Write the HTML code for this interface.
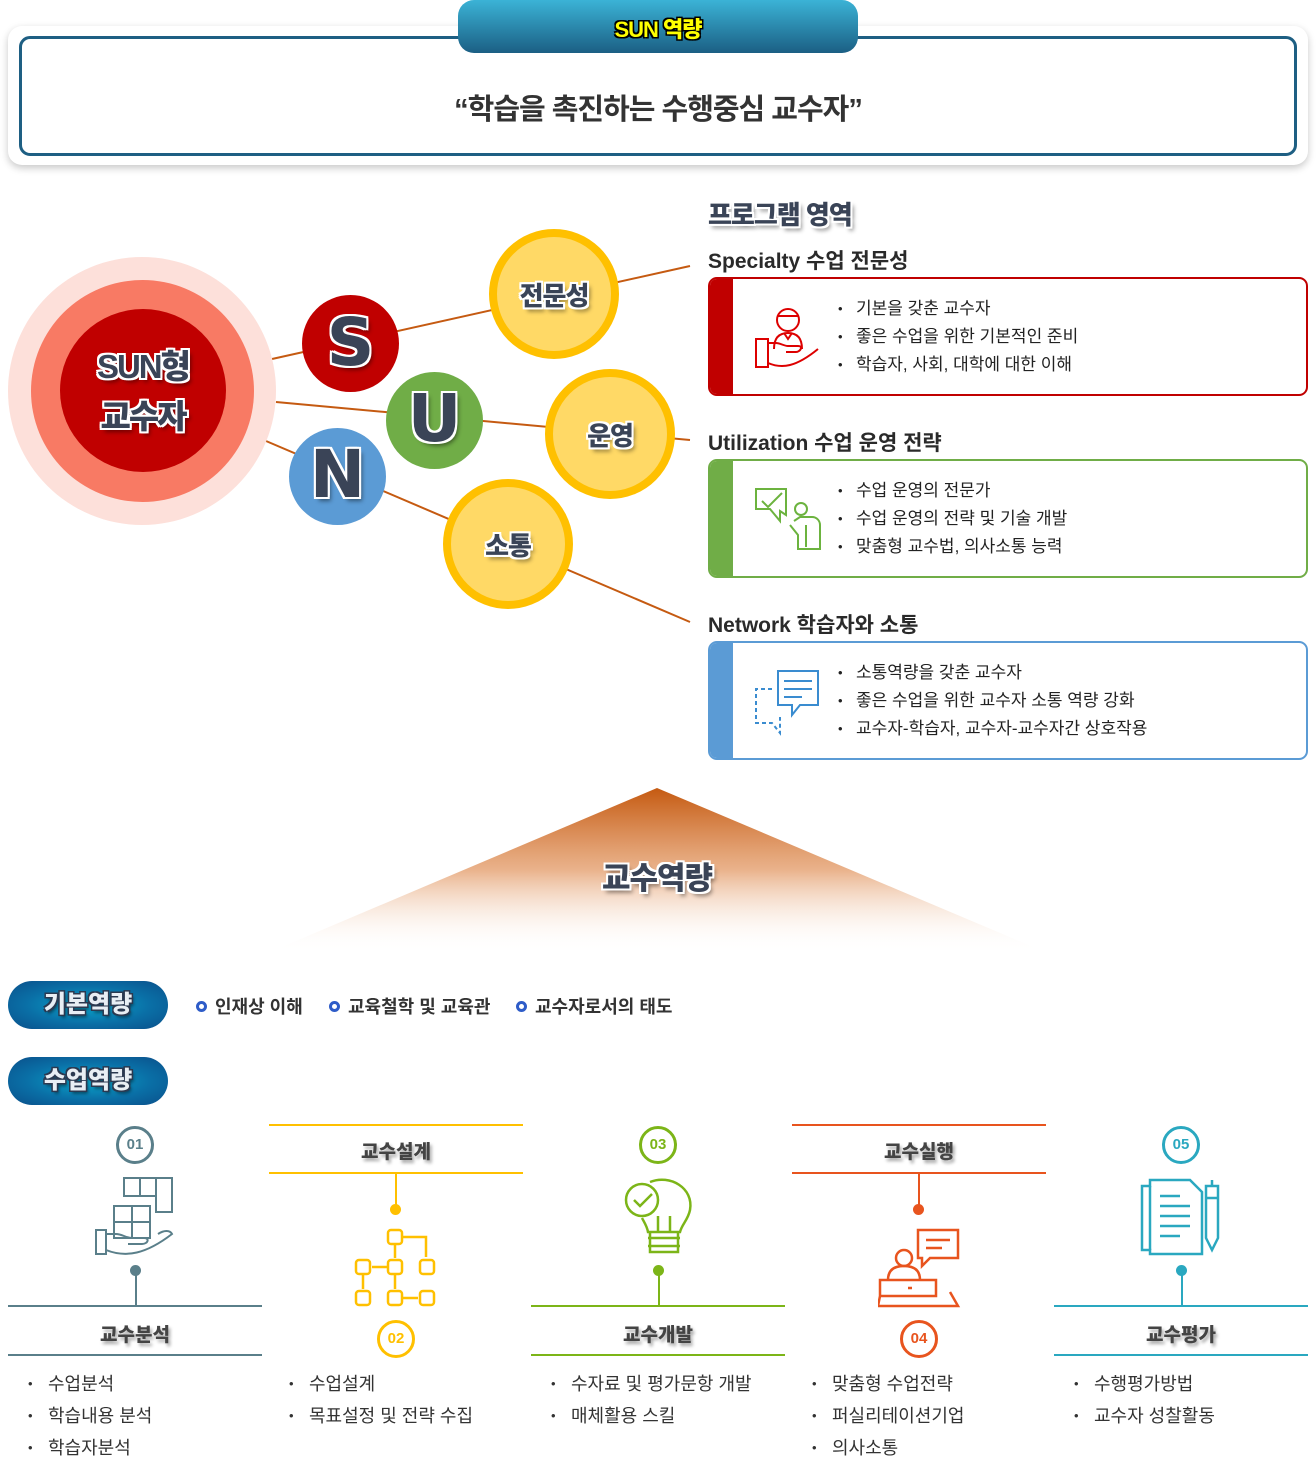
<!DOCTYPE html>
<html><head><meta charset="utf-8">
<style>
*{margin:0;padding:0;box-sizing:border-box}
body{width:1316px;height:1464px;background:#fff;position:relative;overflow:hidden;font-family:"Liberation Sans","Noto Sans CJK KR",sans-serif;color:#333}
.a{position:absolute}
.t{position:absolute;white-space:nowrap}
.out{color:#3a4457;font-weight:900;text-shadow:-2px -2px 0 #fff,2px -2px 0 #fff,-2px 2px 0 #fff,2px 2px 0 #fff,0 2px 0 #fff,0 -2px 0 #fff,2px 0 0 #fff,-2px 0 0 #fff,3px 4px 4px rgba(0,0,0,.45)}
.circ{position:absolute;border-radius:50%}
.box{position:absolute;left:708px;width:600px;height:119px;border:2px solid;border-radius:9px;background:#fff;overflow:hidden}
.box .band{position:absolute;left:0;top:0;bottom:0;width:23px}
.box ul{position:absolute;left:146px;top:16px;list-style:none;font-size:17px;line-height:28px;color:#222}
.box li{position:relative}
.box li:before{content:"•";position:absolute;left:-18px;font-size:13px}
.pill{position:absolute;left:8px;width:160px;height:48px;border-radius:24px;background:radial-gradient(ellipse at center,#0aa6cc 0%,#0a6fa6 55%,#0b4f8a 100%);text-align:center;line-height:48px;font-size:24px;font-weight:900;color:#e8eef4;text-shadow:-1.5px -1.5px 0 #2b3950,1.5px -1.5px 0 #2b3950,-1.5px 1.5px 0 #2b3950,1.5px 1.5px 0 #2b3950,2px 3px 3px rgba(0,0,0,.5)}
.ring{display:inline-block;width:11px;height:11px;border:3px solid #2e5cc8;border-radius:50%;margin-right:8px;vertical-align:1px}
.num{position:absolute;width:38px;height:38px;border:3px solid;border-radius:50%;text-align:center;line-height:32px;font-size:15px;font-weight:900;background:#fff}
.ttl{position:absolute;width:254px;text-align:center;font-size:19px;font-weight:900;color:#444;text-shadow:2px 3px 3px rgba(0,0,0,.35)}
.hl{position:absolute;width:254px;height:2px}
.vl{position:absolute;width:2px}
.dot{position:absolute;width:11px;height:11px;border-radius:50%}
.bl{position:absolute;list-style:none;font-size:18px;line-height:32px;color:#333}
.bl li{position:relative}
.bl li:before{content:"•";position:absolute;left:-20px;font-size:13px}
</style></head><body>

<div class="a" style="left:8px;top:26px;width:1300px;height:139px;border-radius:14px;background:#fff;box-shadow:0 3px 8px rgba(0,0,0,.22)"></div>
<div class="a" style="left:19px;top:36px;width:1278px;height:120px;border:3px solid #1e5f83;border-radius:11px"></div>
<div class="a" style="left:458px;top:0;width:400px;height:53px;border-radius:16px;background:linear-gradient(#3bb3d6,#1b5f84)"></div>
<div class="t" style="left:458px;top:12px;width:400px;text-align:center;font-size:22px;font-weight:900;color:#ffff00;letter-spacing:-1px;text-shadow:-1.5px -1.5px 0 #000,1.5px -1.5px 0 #000,-1.5px 1.5px 0 #000,1.5px 1.5px 0 #000">SUN 역량</div>
<div class="t" style="left:0;top:86px;width:1316px;text-align:center;font-size:29px;font-weight:700;color:#333;letter-spacing:-1px">“학습을 촉진하는 수행중심 교수자”</div>

<svg class="a" style="left:0;top:0" width="1316" height="800">
<g stroke="#c55a11" stroke-width="2" fill="none">
<line x1="272" y1="359" x2="690" y2="266"/>
<line x1="276" y1="402" x2="690" y2="440"/>
<line x1="266" y1="441" x2="690" y2="622"/>
</g></svg>

<div class="circ" style="left:8px;top:257px;width:268px;height:268px;background:#fde0da"></div>
<div class="circ" style="left:31px;top:280px;width:223px;height:222px;background:#f87a64"></div>
<div class="circ" style="left:60px;top:309px;width:166px;height:163px;background:#c00000"></div>
<div class="t out" style="left:60px;top:342px;width:166px;text-align:center;font-size:33px;line-height:50px;letter-spacing:-2px">SUN형<br>교수자</div>

<div class="circ" style="left:302px;top:295px;width:97px;height:97px;background:#c00000"></div>
<div class="circ" style="left:386px;top:372px;width:97px;height:97px;background:#70ad47"></div>
<div class="circ" style="left:289px;top:428px;width:97px;height:97px;background:#5b9bd5"></div>
<div class="t out" style="left:302px;top:304px;width:97px;text-align:center;font-size:66px;font-family:'DejaVu Sans',sans-serif">S</div>
<div class="t out" style="left:386px;top:380px;width:97px;text-align:center;font-size:66px;font-family:'DejaVu Sans',sans-serif">U</div>
<div class="t out" style="left:289px;top:436px;width:97px;text-align:center;font-size:66px;font-family:'DejaVu Sans',sans-serif">N</div>

<div class="circ" style="left:489px;top:229px;width:130px;height:130px;background:#ffd966;border:8px solid #ffc000"></div>
<div class="circ" style="left:545px;top:369px;width:130px;height:130px;background:#ffd966;border:8px solid #ffc000"></div>
<div class="circ" style="left:443px;top:479px;width:130px;height:130px;background:#ffd966;border:8px solid #ffc000"></div>
<div class="t out" style="left:489px;top:276px;width:130px;text-align:center;font-size:26px;letter-spacing:-1px">전문성</div>
<div class="t out" style="left:545px;top:416px;width:130px;text-align:center;font-size:26px;letter-spacing:-1px">운영</div>
<div class="t out" style="left:443px;top:526px;width:130px;text-align:center;font-size:26px;letter-spacing:-1px">소통</div>

<div class="t out" style="left:708px;top:195px;font-size:26px;letter-spacing:-1px">프로그램 영역</div>
<div class="t" style="left:708px;top:245px;font-size:21px;font-weight:700;color:#2a2a2a">Specialty 수업 전문성</div>
<div class="box" style="top:277px;border-color:#c00000"><div class="band" style="background:#c00000"></div>
<svg class="a" style="left:44px;top:24px" width="70" height="70" fill="none" stroke="#d00" stroke-width="2"><circle cx="34" cy="17" r="11"/><path d="M23 13h22M20 46c0-12 6-16 14-16s14 4 14 16M30 30l4 6 4-6M2 36h12v28H2zM14 40h8c4 0 8 3 12 3h10c6 0 2 6-2 6H32M14 60c14 6 28 4 50-14"/></svg>
<ul><li>기본을 갖춘 교수자</li><li>좋은 수업을 위한 기본적인 준비</li><li>학습자, 사회, 대학에 대한 이해</li></ul></div>

<div class="t" style="left:708px;top:427px;font-size:21px;font-weight:700;color:#2a2a2a">Utilization 수업 운영 전략</div>
<div class="box" style="top:459px;border-color:#70ad47"><div class="band" style="background:#70ad47"></div>
<svg class="a" style="left:44px;top:24px" width="70" height="70" fill="none" stroke="#6cb33f" stroke-width="2"><path d="M2 4h30v26l-6-4v10l-10-12H2z"/><path d="M8 16l6 6 14-14"/><circle cx="47" cy="24" r="6"/><path d="M36 40l8 10v14h22V40c0-4-3-8-8-8H46l-6 4M52 40v22" /></svg>
<ul><li>수업 운영의 전문가</li><li>수업 운영의 전략 및 기술 개발</li><li>맞춤형 교수법, 의사소통 능력</li></ul></div>

<div class="t" style="left:708px;top:609px;font-size:21px;font-weight:700;color:#2a2a2a">Network 학습자와 소통</div>
<div class="box" style="top:641px;border-color:#5b9bd5"><div class="band" style="background:#5b9bd5"></div>
<svg class="a" style="left:44px;top:24px" width="70" height="70" fill="none" stroke="#3a8cd0" stroke-width="2"><path d="M24 4h40v34H46l-8 10V38H24z"/><path d="M30 14h28M30 22h28M30 30h18"/><path d="M18 22H2v34h16l8 10V50" stroke-dasharray="4 3"/></svg>
<ul><li>소통역량을 갖춘 교수자</li><li>좋은 수업을 위한 교수자 소통 역량 강화</li><li>교수자-학습자, 교수자-교수자간 상호작용</li></ul></div>

<svg class="a" style="left:0;top:780px" width="1316" height="180">
<defs><linearGradient id="tg" x1="0" y1="0" x2="0" y2="1"><stop offset="0" stop-color="#c55a11"/><stop offset="0.5" stop-color="#e6a577" stop-opacity=".85"/><stop offset="1" stop-color="#fff" stop-opacity="0"/></linearGradient></defs>
<polygon points="657,8 1045,172 270,172" fill="url(#tg)"/></svg>
<div class="t out" style="left:557px;top:853px;width:200px;text-align:center;font-size:31px;letter-spacing:-1px">교수역량</div>

<div class="pill" style="top:981px">기본역량</div>
<div class="pill" style="top:1057px">수업역량</div>
<div class="t" style="left:196px;top:993px;font-size:18px;font-weight:700;color:#333"><span class="ring"></span>인재상 이해</div>
<div class="t" style="left:329px;top:993px;font-size:18px;font-weight:700;color:#333"><span class="ring"></span>교육철학 및 교육관</div>
<div class="t" style="left:516px;top:993px;font-size:18px;font-weight:700;color:#333"><span class="ring"></span>교수자로서의 태도</div>

<div class="num" style="left:116px;top:1126px;border-color:#5a7f8a;color:#5a7f8a">01</div>
<svg class="a" style="left:94px;top:1176px" width="84" height="84" fill="none" stroke="#5a7f8a" stroke-width="2"><path d="M30 2h48v34H62v-16H30zM46 2v18M62 2v18M30 20V2"/><path d="M20 30h36v32H20zM38 30v32M20 46h36"/><path d="M2 54h10v24H2zM12 58h10c6 0 10 4 16 4h12c6 0 4 6-2 6H34M12 74c20 8 40 4 66-16c-2-4-8-4-14 0"/></svg>
<div class="dot" style="left:130px;top:1265px;background:#5a7f8a"></div>
<div class="vl" style="left:135px;top:1270px;height:36px;background:#5a7f8a"></div>
<div class="hl" style="left:8px;top:1305px;background:#5a7f8a"></div>
<div class="ttl" style="left:8px;top:1320px">교수분석</div>
<div class="hl" style="left:8px;top:1354px;background:#5a7f8a"></div>
<ul class="bl" style="left:48px;top:1368px"><li>수업분석</li><li>학습내용 분석</li><li>학습자분석</li></ul>

<div class="hl" style="left:269px;top:1124px;background:#ffc000"></div>
<div class="ttl" style="left:269px;top:1137px">교수설계</div>
<div class="hl" style="left:269px;top:1172px;background:#ffc000"></div>
<div class="vl" style="left:395px;top:1173px;height:36px;background:#ffc000"></div>
<div class="dot" style="left:390px;top:1204px;background:#ffc000"></div>
<svg class="a" style="left:354px;top:1228px" width="84" height="84" fill="none" stroke="#ffc000" stroke-width="2.5"><rect x="34" y="2" width="14" height="14" rx="3"/><rect x="2" y="32" width="14" height="14" rx="3"/><rect x="34" y="32" width="14" height="14" rx="3"/><rect x="66" y="32" width="14" height="14" rx="3"/><rect x="2" y="63" width="14" height="14" rx="3"/><rect x="34" y="63" width="14" height="14" rx="3"/><rect x="66" y="63" width="14" height="14" rx="3"/><path d="M48 9h24v20M41 16v14M34 39H18M9 46v15M41 46v15M48 70h16"/></svg>
<div class="num" style="left:377px;top:1320px;border-color:#ffc000;color:#ffc000">02</div>
<ul class="bl" style="left:309px;top:1368px"><li>수업설계</li><li>목표설정 및 전략 수집</li></ul>

<div class="num" style="left:639px;top:1126px;border-color:#7cb518;color:#7cb518">03</div>
<svg class="a" style="left:622px;top:1176px" width="74" height="84" fill="none" stroke="#7cb518" stroke-width="2.5"><circle cx="20" cy="24" r="16"/><path d="M12 24l6 6 12-12"/><path d="M28 6c20-8 44 6 40 28c-2 10-8 14-10 22H26c-1-6-4-10-6-14M28 56v20h28V56M26 62h32M26 70h32M36 56V40M48 56V40"/></svg>
<div class="dot" style="left:653px;top:1265px;background:#7cb518"></div>
<div class="vl" style="left:658px;top:1270px;height:36px;background:#7cb518"></div>
<div class="hl" style="left:531px;top:1305px;background:#7cb518"></div>
<div class="ttl" style="left:531px;top:1320px">교수개발</div>
<div class="hl" style="left:531px;top:1354px;background:#7cb518"></div>
<ul class="bl" style="left:571px;top:1368px"><li>수자료 및 평가문항 개발</li><li>매체활용 스킬</li></ul>

<div class="hl" style="left:792px;top:1124px;background:#e8541e"></div>
<div class="ttl" style="left:792px;top:1137px">교수실행</div>
<div class="hl" style="left:792px;top:1172px;background:#e8541e"></div>
<div class="vl" style="left:918px;top:1173px;height:36px;background:#e8541e"></div>
<div class="dot" style="left:913px;top:1204px;background:#e8541e"></div>
<svg class="a" style="left:878px;top:1228px" width="84" height="84" fill="none" stroke="#e8541e" stroke-width="2.5"><path d="M40 2h40v28H52l-8 8v-8h-4z"/><path d="M48 12h24M48 20h16"/><circle cx="26" cy="30" r="8"/><path d="M10 52c0-10 6-14 16-14s16 4 16 14M2 52h56v16H2zM2 68l-2 10h80l-8-14M30 60h4"/></svg>
<div class="num" style="left:900px;top:1320px;border-color:#e8541e;color:#e8541e">04</div>
<ul class="bl" style="left:832px;top:1368px"><li>맞춤형 수업전략</li><li>퍼실리테이션기업</li><li>의사소통</li></ul>

<div class="num" style="left:1162px;top:1126px;border-color:#2aa8c0;color:#2aa8c0">05</div>
<svg class="a" style="left:1140px;top:1176px" width="84" height="84" fill="none" stroke="#2aa8c0" stroke-width="2.5"><path d="M2 10h8V4h40l12 12v62H10v-4H2z"/><path d="M10 10v64"/><path d="M20 20h20M20 30h30M20 40h30M20 50h30M20 60h20"/><path d="M66 10h12v52l-6 12-6-12z M66 22h12M72 4v6"/></svg>
<div class="dot" style="left:1176px;top:1265px;background:#2aa8c0"></div>
<div class="vl" style="left:1181px;top:1270px;height:36px;background:#2aa8c0"></div>
<div class="hl" style="left:1054px;top:1305px;background:#2aa8c0"></div>
<div class="ttl" style="left:1054px;top:1320px">교수평가</div>
<div class="hl" style="left:1054px;top:1354px;background:#2aa8c0"></div>
<ul class="bl" style="left:1094px;top:1368px"><li>수행평가방법</li><li>교수자 성찰활동</li></ul>

</body></html>
